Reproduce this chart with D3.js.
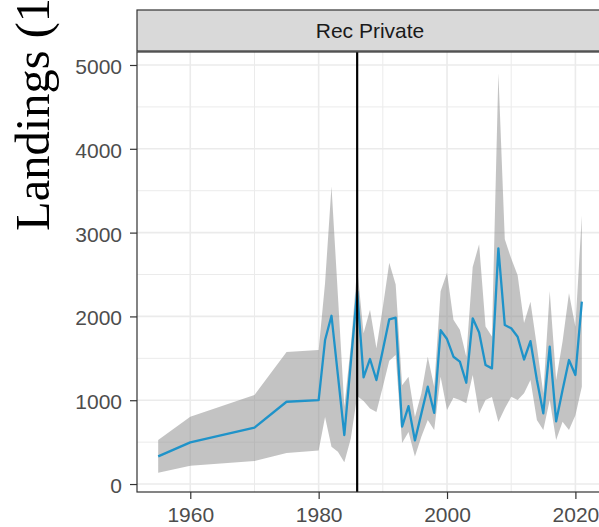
<!DOCTYPE html>
<html>
<head>
<meta charset="utf-8">
<script src="https://cdn.jsdelivr.net/npm/d3@7/dist/d3.min.js"></script>
<style>
  html, body { margin: 0; padding: 0; background: #ffffff; overflow: hidden; }
  svg { display: block; }
</style>
</head>
<body>
<svg id="chart" width="599" height="527"></svg>
<script>
// Recreational private-boat landings: annual estimate with its uncertainty band
const years = [1955, 1960, 1970, 1975, 1980, 1981, 1982, 1983, 1984, 1985, 1986, 1987, 1988, 1989,
  1990, 1991, 1992, 1993, 1994, 1995, 1996, 1997, 1998, 1999, 2000, 2001, 2002, 2003, 2004, 2005,
  2006, 2007, 2008, 2009, 2010, 2011, 2012, 2013, 2014, 2015, 2016, 2017, 2018, 2019, 2020, 2021];
const landings = [330, 497, 672, 982, 1002, 1718, 2008, 1300, 585, 1440, 2300, 1273, 1492, 1241,
  1600, 1965, 1985, 684, 930, 520, 840, 1161, 850, 1835, 1730, 1519, 1460, 1209, 1977, 1808,
  1420, 1380, 2812, 1897, 1858, 1758, 1486, 1705, 1241, 843, 1639, 748, 1122, 1480, 1301, 2176];
const upper = [525, 803, 1062, 1575, 1600, 2400, 3550, 2250, 923, 1640, 2580, 1800, 2080, 1620,
  2110, 2640, 2380, 1180, 1280, 800, 1080, 1520, 1160, 2300, 2520, 1960, 1840, 1520, 2590, 2860,
  1880, 1760, 4900, 2920, 2690, 2490, 1920, 2176, 1640, 1082, 2300, 1240, 1700, 2275, 1877, 3200];
const lower = [135, 218, 274, 370, 400, 800, 446, 386, 260, 540, 1050, 990, 900, 860,
  1160, 1470, 1540, 490, 620, 330, 565, 764, 644, 1281, 883, 1030, 1002, 963, 1300, 843,
  1002, 1040, 740, 900, 1042, 1002, 1082, 1241, 764, 644, 1002, 525, 744, 644, 820, 1161];

const panelTitle = "Rec Private";
const yTitle = "Landings (1000 lbs)";
const xTicks = [1960, 1980, 2000, 2020];
const xMinor = [1970, 1990, 2010];
const yTicks = [0, 1000, 2000, 3000, 4000, 5000];
const yMinor = [500, 1500, 2500, 3500, 4500];
const breakYear = 1986;

const rows = years.map((yr, i) => ({ year: yr, value: landings[i], lo: lower[i], hi: upper[i] }));

const svg = d3.select("#chart");
const panel = { left: 137, right: 603, top: 52, bottom: 492 };
const strip = { top: 10, bottom: 51 };

const x = d3.scaleLinear().domain([1951.7, 2024.3]).range([panel.left, panel.right]);
const y = d3.scaleLinear().domain([-95, 5155]).range([panel.bottom, panel.top]);

// panel background
svg.append("rect")
  .attr("x", panel.left).attr("y", panel.top)
  .attr("width", panel.right - panel.left).attr("height", panel.bottom - panel.top)
  .attr("fill", "#ffffff");

const grid = svg.append("g");
// minor grid
grid.selectAll(".vminor").data(xMinor).join("line")
  .attr("x1", d => x(d)).attr("x2", d => x(d))
  .attr("y1", panel.top).attr("y2", panel.bottom)
  .attr("stroke", "#ebebeb").attr("stroke-width", 1);
grid.selectAll(".hminor").data(yMinor).join("line")
  .attr("x1", panel.left).attr("x2", panel.right)
  .attr("y1", d => y(d)).attr("y2", d => y(d))
  .attr("stroke", "#ebebeb").attr("stroke-width", 1);
// major grid
grid.selectAll(".vmajor").data(xTicks).join("line")
  .attr("x1", d => x(d)).attr("x2", d => x(d))
  .attr("y1", panel.top).attr("y2", panel.bottom)
  .attr("stroke", "#ebebeb").attr("stroke-width", 1.6);
grid.selectAll(".hmajor").data(yTicks).join("line")
  .attr("x1", panel.left).attr("x2", panel.right)
  .attr("y1", d => y(d)).attr("y2", d => y(d))
  .attr("stroke", "#ebebeb").attr("stroke-width", 1.6);

// uncertainty ribbon
const band = d3.area()
  .x(d => x(d.year))
  .y0(d => y(d.lo))
  .y1(d => y(d.hi));
svg.append("path")
  .datum(rows)
  .attr("d", band)
  .attr("fill", "#888888")
  .attr("fill-opacity", 0.5);

// estimate line
const line = d3.line().x(d => x(d.year)).y(d => y(d.value));
svg.append("path")
  .datum(rows)
  .attr("d", line)
  .attr("fill", "none")
  .attr("stroke", "#1f93c9")
  .attr("stroke-width", 2.3)
  .attr("stroke-linejoin", "round");

// reference year
svg.append("line")
  .attr("x1", x(breakYear)).attr("x2", x(breakYear))
  .attr("y1", panel.top).attr("y2", panel.bottom)
  .attr("stroke", "#000000").attr("stroke-width", 2.2);

// panel border
svg.append("rect")
  .attr("x", panel.left).attr("y", panel.top)
  .attr("width", panel.right - panel.left).attr("height", panel.bottom - panel.top)
  .attr("fill", "none").attr("stroke", "#333333").attr("stroke-width", 1.2);

// facet strip
svg.append("rect")
  .attr("x", panel.left).attr("y", strip.top)
  .attr("width", panel.right - panel.left).attr("height", strip.bottom - strip.top)
  .attr("fill", "#d9d9d9").attr("stroke", "#333333").attr("stroke-width", 1.2);
svg.append("text")
  .attr("x", (panel.left + panel.right) / 2)
  .attr("y", (strip.top + strip.bottom) / 2)
  .attr("dy", "0.36em")
  .attr("text-anchor", "middle")
  .attr("font-family", "'Liberation Sans', Arial, sans-serif")
  .attr("font-size", 21)
  .attr("fill", "#1a1a1a")
  .text(panelTitle);

// axes
const yAxis = svg.append("g")
  .attr("transform", `translate(${panel.left},0)`)
  .call(d3.axisLeft(y).tickValues(yTicks).tickFormat(d3.format("d")).tickSize(7).tickPadding(8));
const xAxis = svg.append("g")
  .attr("transform", `translate(0,${panel.bottom})`)
  .call(d3.axisBottom(x).tickValues(xTicks).tickFormat(d3.format("d")).tickSize(7).tickPadding(8));

[yAxis, xAxis].forEach(g => {
  g.select(".domain").remove();
  g.selectAll(".tick line").attr("stroke", "#333333").attr("stroke-width", 1.2);
  g.selectAll(".tick text")
    .attr("font-family", "'Liberation Sans', Arial, sans-serif")
    .attr("font-size", 21)
    .attr("fill", "#4d4d4d");
});
yAxis.selectAll(".tick text").attr("dy", "0.4em");

// y-axis title (runs past the top edge of the page)
svg.append("text")
  .attr("transform", "translate(49,231) rotate(-90)")
  .attr("text-anchor", "start")
  .attr("font-family", "'Liberation Serif', 'Times New Roman', serif")
  .attr("font-size", 48.5)
  .attr("fill", "#000000")
  .text(yTitle);
</script>
</body>
</html>
